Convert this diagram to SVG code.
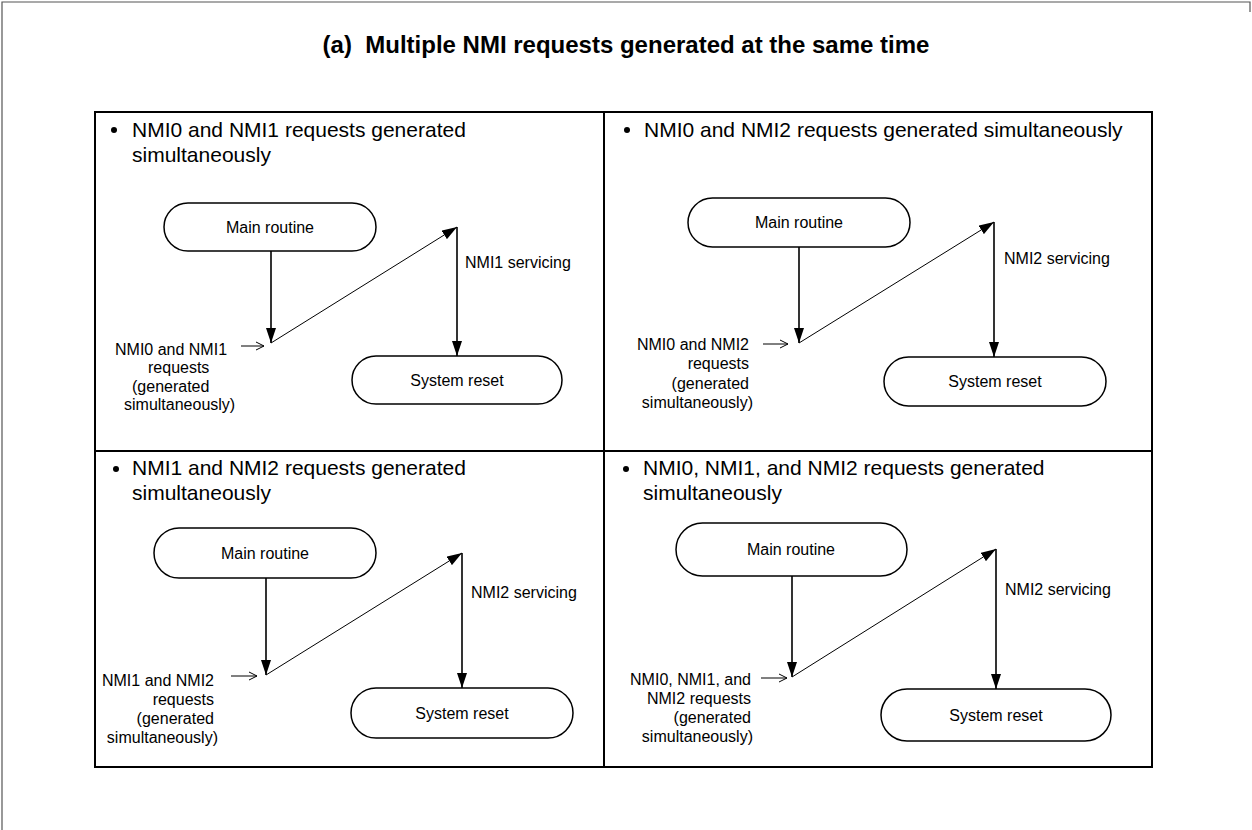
<svg xmlns="http://www.w3.org/2000/svg" width="1252" height="830" viewBox="0 0 1252 830">
  <style>
    .frame { fill: none; stroke: #555; stroke-width: 1.2; }
    .grid { fill: none; stroke: #000; stroke-width: 2; }
    .term { fill: #fff; stroke: #000; stroke-width: 1.5; }
    .flow { fill: none; stroke: #000; stroke-width: 1.6; }
    .thin { fill: none; stroke: #000; stroke-width: 1; }
    .title { font-family: "Liberation Sans", Arial, sans-serif; font-weight: bold; font-size: 24px; fill: #000; }
    .head { font-family: "Liberation Sans", Arial, sans-serif; font-size: 21px; fill: #000; }
    .node { font-family: "Liberation Sans", Arial, sans-serif; font-size: 16px; fill: #000; text-anchor: middle; }
    .lbl { font-family: "Liberation Sans", Arial, sans-serif; font-size: 16px; fill: #000; }
    .req { font-family: "Liberation Sans", Arial, sans-serif; font-size: 16px; fill: #000; text-anchor: end; }
  </style>
  <defs>
    <marker id="solid" markerUnits="userSpaceOnUse" markerWidth="15" markerHeight="10" refX="15" refY="5" orient="auto">
      <path d="M0,0 L15,5 L0,10 z" fill="#000"/>
    </marker>
    <marker id="open" markerUnits="userSpaceOnUse" markerWidth="10" markerHeight="10" refX="9" refY="5" orient="auto">
      <path d="M1,1 L9,5 L1,9" fill="none" stroke="#000" stroke-width="1"/>
    </marker>
  </defs>

  <rect width="1252" height="830" fill="#fff"/>

  <!-- page frame -->
  <g id="frame">
    <path class="frame" d="M2,830 L2,2 L1250,2 L1250,12"/>
  </g>

  <text id="title" class="title" x="626" y="53" text-anchor="middle" xml:space="preserve">(a)  Multiple NMI requests generated at the same time</text>

  <!-- 2x2 table -->
  <g id="table">
    <rect class="grid" x="95" y="112" width="1057" height="655"/>
    <line class="grid" x1="604" y1="112" x2="604" y2="767"/>
    <line class="grid" x1="95" y1="451" x2="1152" y2="451"/>
  </g>

  <!-- panel headings -->
  <g id="headings">
    <circle cx="114" cy="130" r="3"/>
    <text class="head" x="132" y="137">NMI0 and NMI1 requests generated</text>
    <text class="head" x="132" y="162">simultaneously</text>

    <circle cx="627" cy="130" r="3"/>
    <text class="head" x="644" y="137">NMI0 and NMI2 requests generated simultaneously</text>

    <circle cx="116" cy="469" r="3"/>
    <text class="head" x="132" y="475">NMI1 and NMI2 requests generated</text>
    <text class="head" x="132" y="500">simultaneously</text>

    <circle cx="626" cy="469" r="3"/>
    <text class="head" x="643" y="475">NMI0, NMI1, and NMI2 requests generated</text>
    <text class="head" x="643" y="500">simultaneously</text>
  </g>

  <!-- terminal nodes -->
  <g id="p1-main">
    <rect class="term" x="164" y="203" width="212" height="48" rx="24"/>
    <text class="node" x="270" y="233">Main routine</text>
  </g>
  <g id="p1-reset">
    <rect class="term" x="352" y="356" width="210" height="48" rx="24"/>
    <text class="node" x="457" y="386">System reset</text>
  </g>
  <g id="p2-main">
    <rect class="term" x="688" y="198" width="222" height="49" rx="24.5"/>
    <text class="node" x="799" y="228">Main routine</text>
  </g>
  <g id="p2-reset">
    <rect class="term" x="884" y="357" width="222" height="49" rx="24.5"/>
    <text class="node" x="995" y="387">System reset</text>
  </g>
  <g id="p3-main">
    <rect class="term" x="154" y="528" width="222" height="50" rx="25"/>
    <text class="node" x="265" y="559">Main routine</text>
  </g>
  <g id="p3-reset">
    <rect class="term" x="351" y="688" width="222" height="50" rx="25"/>
    <text class="node" x="462" y="719">System reset</text>
  </g>
  <g id="p4-main">
    <rect class="term" x="676" y="523" width="231" height="53" rx="26.5"/>
    <text class="node" x="791" y="555">Main routine</text>
  </g>
  <g id="p4-reset">
    <rect class="term" x="881" y="689" width="230" height="52" rx="26"/>
    <text class="node" x="996" y="721">System reset</text>
  </g>

  <!-- connectors -->
  <g id="connectors">
    <line class="flow" x1="271" y1="251" x2="271" y2="343" marker-end="url(#solid)"/>
    <line class="thin" x1="271" y1="343" x2="457" y2="227" marker-end="url(#solid)"/>
    <line class="flow" x1="457" y1="227" x2="457" y2="356" marker-end="url(#solid)"/>
    <line class="thin" x1="241" y1="346" x2="264" y2="346" marker-end="url(#open)"/>

    <line class="flow" x1="799" y1="247" x2="799" y2="343" marker-end="url(#solid)"/>
    <line class="thin" x1="799" y1="343" x2="994" y2="222" marker-end="url(#solid)"/>
    <line class="flow" x1="994" y1="222" x2="994" y2="357" marker-end="url(#solid)"/>
    <line class="thin" x1="763" y1="344" x2="788" y2="344" marker-end="url(#open)"/>

    <line class="flow" x1="266" y1="578" x2="266" y2="675" marker-end="url(#solid)"/>
    <line class="thin" x1="266" y1="675" x2="462" y2="553" marker-end="url(#solid)"/>
    <line class="flow" x1="462" y1="553" x2="462" y2="688" marker-end="url(#solid)"/>
    <line class="thin" x1="231" y1="676" x2="257" y2="676" marker-end="url(#open)"/>

    <line class="flow" x1="792" y1="576" x2="792" y2="677" marker-end="url(#solid)"/>
    <line class="thin" x1="792" y1="677" x2="996" y2="549" marker-end="url(#solid)"/>
    <line class="flow" x1="996" y1="549" x2="996" y2="689" marker-end="url(#solid)"/>
    <line class="thin" x1="761" y1="678" x2="787" y2="678" marker-end="url(#open)"/>
  </g>

  <!-- connector labels -->
  <g id="labels">
    <text class="lbl" x="465" y="268">NMI1 servicing</text>
    <text class="lbl" x="115" y="355">NMI0 and NMI1</text>
    <text class="lbl" x="148" y="373">requests</text>
    <text class="lbl" x="132" y="392">(generated</text>
    <text class="lbl" x="124" y="410">simultaneously)</text>

    <text class="lbl" x="1004" y="264">NMI2 servicing</text>
    <text class="req" x="749" y="350">NMI0 and NMI2</text>
    <text class="req" x="749" y="369">requests</text>
    <text class="req" x="749" y="389">(generated</text>
    <text class="req" x="753" y="408">simultaneously)</text>

    <text class="lbl" x="471" y="598">NMI2 servicing</text>
    <text class="req" x="214" y="686">NMI1 and NMI2</text>
    <text class="req" x="214" y="705">requests</text>
    <text class="req" x="214" y="724">(generated</text>
    <text class="req" x="218" y="743">simultaneously)</text>

    <text class="lbl" x="1005" y="595">NMI2 servicing</text>
    <text class="req" x="751" y="685">NMI0, NMI1, and</text>
    <text class="req" x="751" y="704">NMI2 requests</text>
    <text class="req" x="751" y="723">(generated</text>
    <text class="req" x="753" y="742">simultaneously)</text>
  </g>
</svg>
